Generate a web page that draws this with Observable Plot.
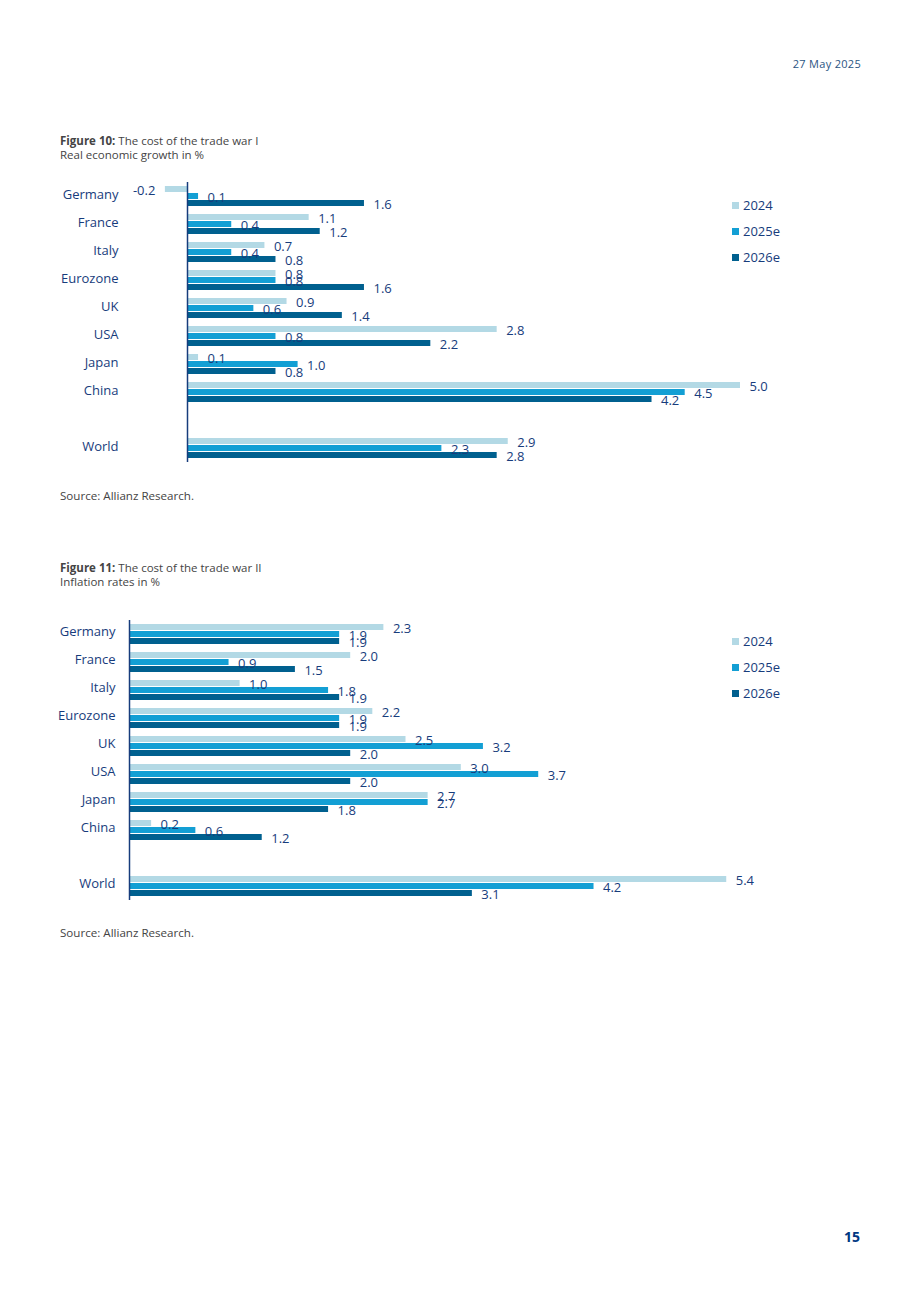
<!DOCTYPE html>
<html>
<head>
<meta charset="utf-8">
<script src="https://cdn.jsdelivr.net/npm/d3@7"></script>
<script src="https://cdn.jsdelivr.net/npm/@observablehq/plot@0.6"></script>
<style>
  html, body { margin: 0; padding: 0; background: #fff; }
  body { width: 920px; height: 1302px; position: relative; font-family: "Open Sans", sans-serif; overflow: hidden; }
  .abs { position: absolute; }
  .date { left: 780px; top: 56px; width: 81px; text-align: right; font-size: 11px; color: #2b5583; letter-spacing: 0.3px; }
  .title { left: 60px; font-size: 11.5px; line-height: 14px; color: #444; }
  .title b { color: #444; }
  .source { left: 60px; font-size: 11.6px; color: #444; }
  .legend { left: 732px; font-size: 13px; color: #173c7c; }
  .legend div { height: 26px; line-height: 26px; display: flex; align-items: center; }
  .legend span.sw { display: inline-block; width: 7px; height: 7px; margin-right: 4px; }
  .page { left: 800px; top: 1227px; width: 60px; text-align: right; font-size: 14px; font-weight: bold; color: #003781; }
</style>
</head>
<body>
<div class="abs date">27 May 2025</div>

<div class="abs title" style="top:134px"><b>Figure 10:</b> The cost of the trade war I<br>Real economic growth in %</div>
<div class="abs" id="fig10" style="left:0; top:170px"></div>
<div class="abs legend" id="legend10" style="top:192px"></div>
<div class="abs source" style="top:488px">Source: Allianz Research.</div>

<div class="abs title" style="top:561px"><b>Figure 11:</b> The cost of the trade war II<br>Inflation rates in %</div>
<div class="abs" id="fig11" style="left:0; top:607px"></div>
<div class="abs legend" id="legend11" style="top:628px"></div>
<div class="abs source" style="top:925px">Source: Allianz Research.</div>

<div class="abs page">15</div>

<script>
// ---- data ----
const countries = ["Germany", "France", "Italy", "Eurozone", "UK", "USA", "Japan", "China", " ", "World"];
const series = ["2024", "2025e", "2026e"];
const colors = ["#b3d9e5", "#139fd4", "#00608f"];

// Figure 10: real GDP growth (%) (null = spacer row)
const growth2024  = [-0.2, 1.1, 0.7, 0.8, 0.9, 2.8, 0.1, 5.0, null, 2.9];
const growth2025e = [ 0.1, 0.4, 0.4, 0.8, 0.6, 0.8, 1.0, 4.5, null, 2.3];
const growth2026e = [ 1.6, 1.2, 0.8, 1.6, 1.4, 2.2, 0.8, 4.2, null, 2.8];

// Figure 11: inflation (%)
const infl2024  = [2.3, 2.0, 1.0, 2.2, 2.5, 3.0, 2.7, 0.2, null, 5.4];
const infl2025e = [1.9, 0.9, 1.8, 1.9, 3.2, 3.7, 2.7, 0.6, null, 4.2];
const infl2026e = [1.9, 1.5, 1.9, 1.9, 2.0, 2.0, 1.8, 1.2, null, 3.1];

const navy = "#173c7c";
const font = "'Open Sans', sans-serif";

function toRows(a, b, c) {
  const rows = [];
  countries.forEach((cty, i) => {
    [a, b, c].forEach((arr, j) => {
      if (arr[i] != null) rows.push({country: cty, series: series[j], value: arr[i]});
    });
  });
  return rows;
}

function makeChart(rows, axisX, labelPad, frameH, labelDy) {
  const pxPerUnit = 110.6;
  const fmt = v => v.toFixed(1);
  return Plot.plot({
    width: 920,
    height: frameH + 20,
    marginTop: 10,
    marginBottom: 10,
    marginLeft: axisX,
    marginRight: 20,
    style: {fontFamily: font, fontSize: "13px", color: navy, background: "transparent"},
    x: {domain: [0, 6], range: [axisX, axisX + 6 * pxPerUnit], axis: null},
    y: {domain: series, paddingInner: 0.08, paddingOuter: 0.4, axis: null},
    fy: {domain: countries, padding: 0},
    color: {domain: series, range: colors},
    marks: [
      Plot.axisFy({anchor: "left", tickSize: 0, tickPadding: labelPad, label: null, dy: labelDy, fontSize: 13}),
      Plot.barX(rows, {fy: "country", y: "series", x1: 0, x2: "value", fill: "series"}),
      Plot.ruleX(countries, {fy: d => d, x: 0, stroke: navy, strokeWidth: 1.5}),
      Plot.text(rows.filter(d => d.value >= 0), {
        fy: "country", y: "series", x: "value", text: d => fmt(d.value),
        textAnchor: "start", dx: 9, dy: 1, fill: navy, fontSize: 13
      }),
      Plot.text(rows.filter(d => d.value < 0), {
        fy: "country", y: "series", x: "value", text: d => fmt(d.value),
        textAnchor: "end", dx: -10, dy: 1, fill: navy, fontSize: 13
      })
    ]
  });
}

function legend(id) {
  const el = document.getElementById(id);
  series.forEach((s, i) => {
    const row = document.createElement("div");
    row.innerHTML = `<span class="sw" style="background:${colors[i]}"></span>${s}`;
    el.appendChild(row);
  });
}

document.getElementById("fig10").appendChild(makeChart(toRows(growth2024, growth2025e, growth2026e), 187, 69, 284, -2));
document.getElementById("fig11").appendChild(makeChart(toRows(infl2024, infl2025e, infl2026e), 129, 14, 286, -3));
legend("legend10");
legend("legend11");
</script>
</body>
</html>
